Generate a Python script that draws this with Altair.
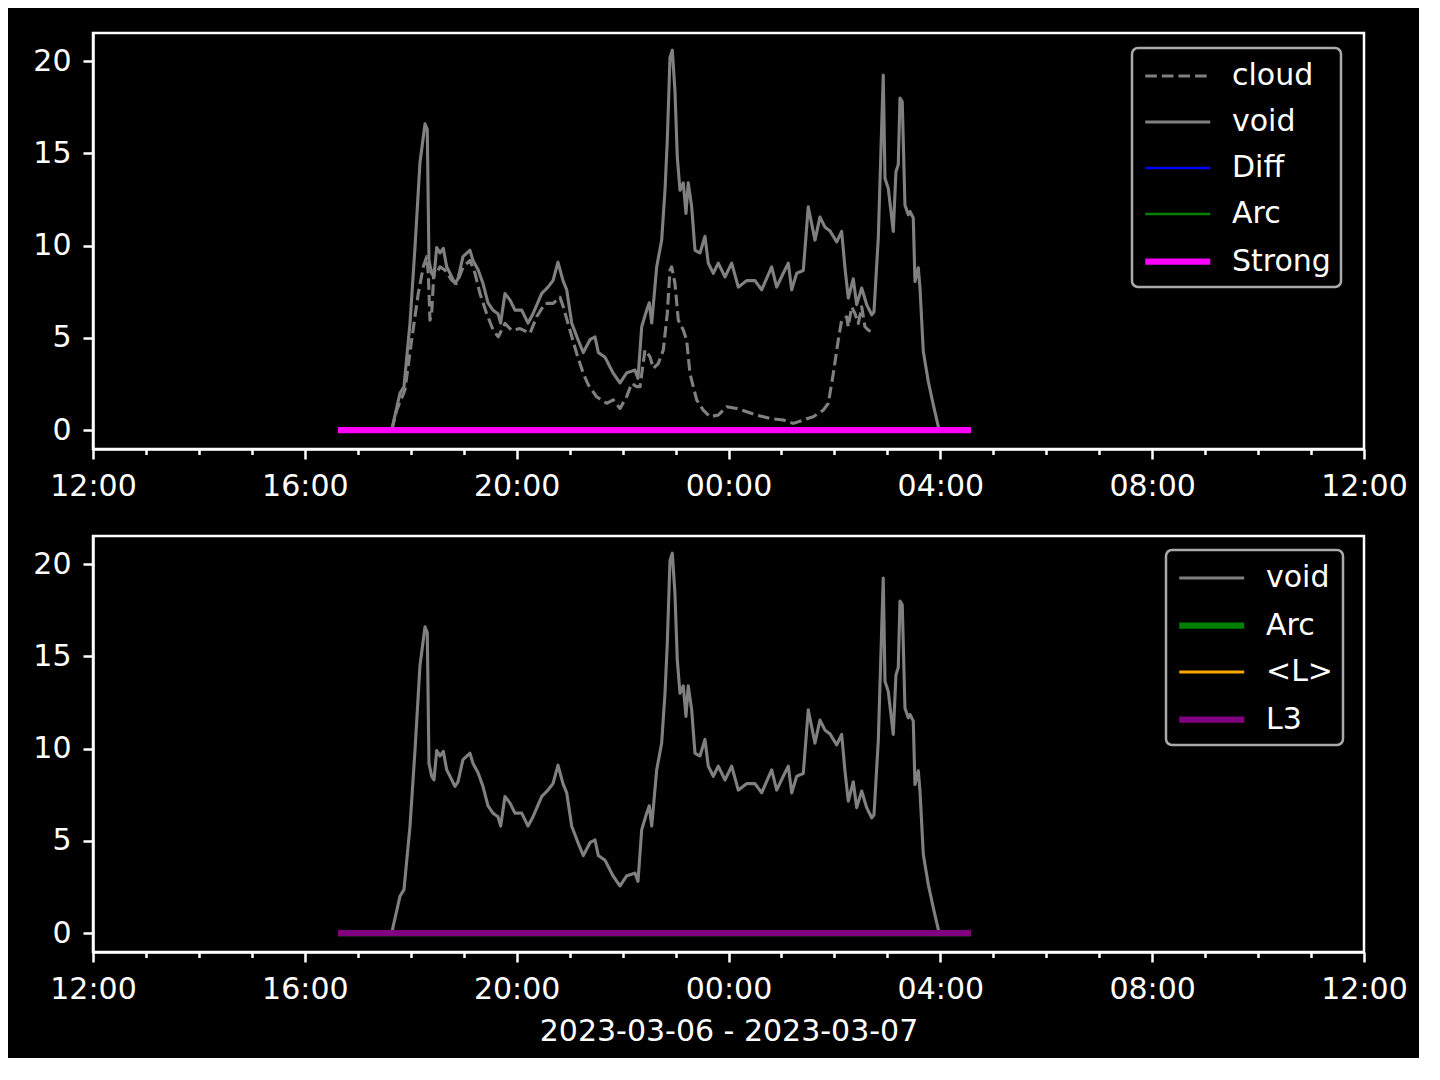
import altair as alt
import pandas as pd

# ---------------- data (hours after 2023-03-06 12:00 UTC, values) ----------------
void_h = [4.626, 5.640, 5.797, 5.872, 5.986, 6.080, 6.174, 6.269, 6.312, 6.344, 6.395, 6.439,
          6.490, 6.552, 6.615, 6.679, 6.741, 6.835, 6.892, 6.986, 7.118, 7.175, 7.270, 7.364,
          7.458, 7.553, 7.647, 7.698, 7.779, 7.874, 7.968, 8.095, 8.214, 8.308, 8.472, 8.591,
          8.686, 8.780, 8.875, 8.945, 9.039, 9.158, 9.258, 9.385, 9.479, 9.542, 9.668, 9.819,
          9.951, 10.077, 10.234, 10.291, 10.361, 10.455, 10.504, 10.550, 10.644, 10.738, 10.801,
          10.844, 10.895, 10.939, 10.989, 11.033, 11.084, 11.146, 11.197, 11.240, 11.305, 11.367,
          11.461, 11.556, 11.618, 11.713, 11.807, 11.934, 12.060, 12.185, 12.343, 12.500, 12.627,
          12.815, 12.910, 13.034, 13.129, 13.193, 13.288, 13.412, 13.506, 13.633, 13.727, 13.822,
          13.916, 14.043, 14.137, 14.199, 14.262, 14.356, 14.420, 14.515, 14.609, 14.704, 14.747,
          14.828, 14.922, 14.955, 15.017, 15.111, 15.162, 15.206, 15.238, 15.281, 15.332, 15.395,
          15.427, 15.489, 15.521, 15.584, 15.616, 15.678, 15.772, 15.867, 15.961, 15.993]
void_v = [0, 0, 2.0, 2.35, 5.8, 9.9, 14.5, 16.6, 16.3, 9.2, 8.5, 8.3,
          9.9, 9.6, 9.85, 8.85, 8.5, 7.95, 8.2, 9.4, 9.75, 9.2, 8.7, 7.95,
          6.9, 6.5, 6.3, 5.8, 7.4, 7.05, 6.5, 6.5, 5.8, 6.3, 7.4, 7.75,
          8.1, 9.1, 8.1, 7.6, 5.8, 4.9, 4.2, 4.9, 5.05, 4.2, 3.95, 3.1,
          2.55, 3.1, 3.25, 2.8, 5.6, 6.5, 6.9, 5.8, 8.85, 10.3, 13.0,
          15.7, 20.2, 20.6, 18.4, 14.8, 13.0, 13.4, 11.75, 13.4, 12.1, 9.75,
          9.6, 10.5, 9.05, 8.5, 9.05, 8.3, 9.05, 7.75, 8.1, 8.1, 7.6,
          8.85, 7.75, 8.5, 9.05, 7.6, 8.5, 8.65, 12.1, 10.3, 11.55, 11.0,
          10.8, 10.2, 10.77, 8.8, 7.15, 8.2, 6.8, 7.7, 6.8, 6.25, 6.4,
          10.4, 19.25, 13.65, 13.1, 10.77, 14.0, 14.4, 18.0, 17.8, 12.2,
          11.67, 11.85, 11.5, 8.05, 8.8, 7.7, 4.27, 2.64, 1.37, 0.2, 0]

cloud_h = [5.640, 5.735, 5.891, 6.018, 6.142, 6.237, 6.301, 6.331, 6.363, 6.395, 6.439, 6.490,
           6.552, 6.647, 6.773, 6.868, 6.992, 7.118, 7.213, 7.307, 7.434, 7.559, 7.653, 7.779,
           7.906, 8.063, 8.251, 8.378, 8.535, 8.691, 8.818, 8.880, 9.007, 9.133, 9.258, 9.353,
           9.511, 9.700, 9.825, 9.951, 10.077, 10.172, 10.266, 10.329, 10.423, 10.518, 10.580,
           10.674, 10.769, 10.844, 10.895, 10.927, 10.989, 11.052, 11.146, 11.210, 11.272, 11.399,
           11.524, 11.650, 11.807, 11.966, 12.155, 12.343, 12.532, 12.783, 13.034, 13.223, 13.412,
           13.601, 13.790, 13.885, 13.979, 14.073, 14.137, 14.232, 14.262, 14.326, 14.388, 14.451,
           14.515, 14.577, 14.640, 14.734]
cloud_v = [0, 1.08, 2.17, 4.9, 7.4, 8.85, 9.4, 8.5, 5.96, 6.3, 8.67, 8.5,
           8.85, 8.67, 8.13, 7.95, 8.85, 9.2, 8.5, 7.4, 6.3, 5.4, 5.05, 5.78,
           5.4, 5.5, 5.24, 6.14, 6.87, 6.87, 7.2, 6.68, 5.4, 4.16, 3.07, 2.45,
           1.8, 1.45, 1.63, 1.17, 1.8, 2.53, 2.35, 2.35, 4.34, 3.97, 3.34,
           3.6, 4.34, 6.32, 8.67, 8.85, 7.95, 5.96, 5.42, 4.88, 3.07, 1.63,
           1.08, 0.72, 0.81, 1.26, 1.17, 0.99, 0.81, 0.63, 0.54, 0.36, 0.54,
           0.72, 1.08, 1.45, 3.07, 4.88, 5.96, 6.14, 5.6, 6.68, 6.32, 5.78,
           6.68, 5.6, 5.42, 5.24]

flat_h = [4.626, 16.578]
flat_v = [0.0, 0.0]

top_names = ["cloud", "void", "Diff", "Arc", "Strong"]
top_colors = ["#808080", "#808080", "#0000ff", "#008000", "#ff00ff"]
top_dashes = [[11.6, 5], [1, 0], [1, 0], [1, 0], [1, 0]]
top_widths = [3.1, 3.1, 2.6, 2.6, 6.25]

bot_names = ["void", "Arc", "<L>", "L3"]
bot_colors = ["#808080", "#008000", "#ffa500", "#800080"]
bot_dashes = [[1, 0], [1, 0], [1, 0], [1, 0]]
bot_widths = [3.1, 6.25, 3.1, 6.25]

hour_ticks = list(range(25))

# ---------------- build ----------------
base_ms = int(pd.Timestamp("2023-03-06 12:00", tz="UTC").value // 10**6)
HOUR = 3600000


def frame(name, hs, vs):
    return pd.DataFrame({"t": [base_ms + int(round(h * HOUR)) for h in hs], "v": vs, "series": name})


series_src = {
    "cloud": (cloud_h, cloud_v),
    "void": (void_h, void_v),
    "Diff": (flat_h, flat_v),
    "Arc": (flat_h, flat_v),
    "Strong": (flat_h, flat_v),
    "<L>": (flat_h, flat_v),
    "L3": (flat_h, flat_v),
}

W, H = 1271, 416
is_major = "utchours(datum.value) % 4 == 0"


def panel(names, colors, dashes, widths, lx, ly, title):
    df = pd.concat([frame(n, *series_src[n]) for n in names], ignore_index=True)
    leg = alt.Legend(orient="none", legendX=lx, legendY=ly, title=None)
    xaxis = alt.Axis(
        values=[base_ms + h * HOUR for h in hour_ticks],
        labelExpr=f"{is_major} ? utcFormat(datum.value, '%H:%M') : ''",
        tickSize={"condition": {"test": is_major, "value": 10}, "value": 5.5},
        labelOverlap=False,
        labelPadding=12,
        labelFlush=False,
        titlePadding=12,
    )
    enc = dict(
        x=alt.X("t:T", scale=alt.Scale(type="utc", domain=[base_ms, base_ms + 24 * HOUR], nice=False),
                axis=xaxis, title=title),
        y=alt.Y("v:Q", scale=alt.Scale(domain=[-1.03, 21.53], nice=False, zero=False),
                axis=alt.Axis(values=[0, 5, 10, 15, 20], tickSize=10, labelPadding=12), title=None),
        color=alt.Color("series:N", scale=alt.Scale(domain=names, range=colors), legend=leg),
        strokeDash=alt.StrokeDash("series:N", scale=alt.Scale(domain=names, range=dashes), legend=leg),
        strokeWidth=alt.StrokeWidth("series:N", scale=alt.Scale(type="ordinal", domain=names, range=widths),
                                    legend=leg),
    )
    base = alt.Chart(df).mark_line(strokeCap="butt", strokeJoin="round").encode(**enc)
    layers = [base.transform_filter(alt.datum.series == n) for n in names]
    return alt.layer(*layers).properties(width=W, height=H)


top = panel(top_names, top_colors, top_dashes, top_widths, 1039, 15, None)
bottom = panel(bot_names, bot_colors, bot_dashes, bot_widths, 1073, 14, "2023-03-06 - 2023-03-07")

chart = (
    alt.vconcat(top, bottom, spacing=31)
    .resolve_scale(color="independent", strokeDash="independent", strokeWidth="independent")
    .resolve_legend(color="independent", strokeDash="independent", strokeWidth="independent")
    .configure(background="black", font="DejaVu Sans",
               padding={"left": 23, "top": 23, "right": 10, "bottom": 10})
    .configure_view(stroke="white", strokeWidth=2.5)
    .configure_axis(domainColor="white", tickColor="white", labelColor="white", titleColor="white",
                    labelFontSize=30, titleFontSize=30, titleFontWeight="normal", grid=False,
                    domainWidth=2.5, tickWidth=2.5, labelFont="DejaVu Sans", titleFont="DejaVu Sans")
    .configure_legend(labelFontSize=30, labelColor="white", labelFont="DejaVu Sans",
                      fillColor="black", strokeColor="#aaaaaa", strokeWidth=2.5, cornerRadius=6,
                      padding=10, symbolType="M-1,0H3", symbolSize=1056, labelOffset=51,
                      rowPadding=13)
)

chart.save("out.html", embed_options={"renderer": "svg", "actions": False})
